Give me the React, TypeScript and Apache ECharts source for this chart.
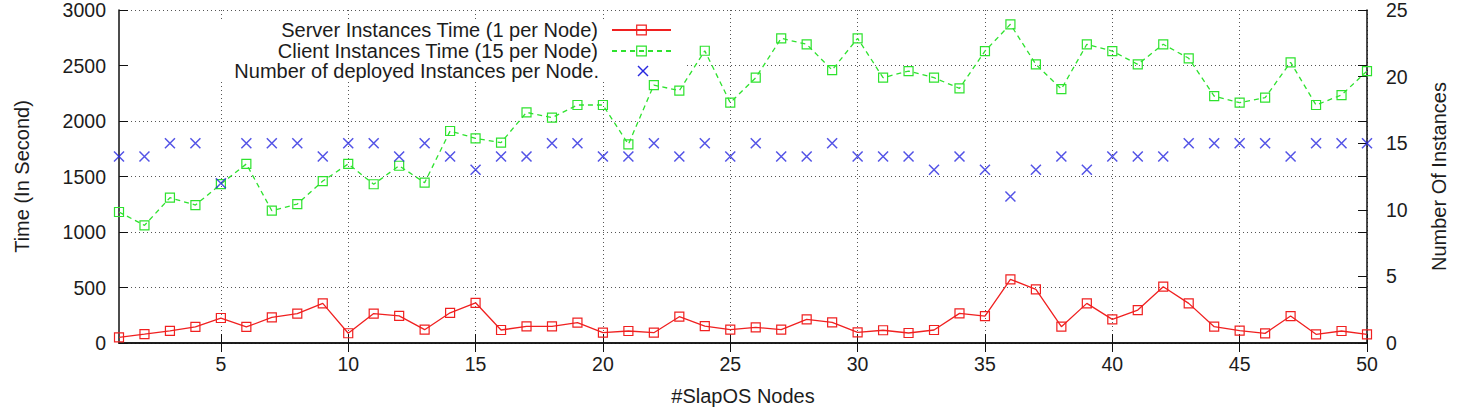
import React, { useEffect, useRef } from "react";
import * as echarts from "echarts";

// Node indices on the x axis
const nodes = [
  1, 2, 3, 4, 5, 6, 7, 8, 9, 10, 11, 12, 13, 14, 15, 16, 17, 18, 19, 20, 21, 22, 23, 24, 25,
  26, 27, 28, 29, 30, 31, 32, 33, 34, 35, 36, 37, 38, 39, 40, 41, 42, 43, 44, 45, 46, 47, 48, 49, 50,
];

// Time (s) to deploy the server instance on each node
const serverTime = [
  51, 80, 110, 145, 225, 145, 230, 265, 357, 88, 265, 245, 120, 272, 362, 117, 150, 150, 183, 93,
  108, 93, 237, 152, 120, 141, 120, 213, 185, 96, 115, 90, 117, 267, 243, 574, 484, 147, 357, 213,
  297, 507, 357, 147, 111, 87, 243, 78, 108, 78,
];

// Time (s) to deploy the client instances on each node
const clientTime = [
  1180, 1060, 1309, 1243, 1432, 1613, 1192, 1252, 1459, 1613, 1430, 1597, 1444, 1910, 1844, 1805,
  2078, 2030, 2144, 2144, 1790, 2324, 2273, 2633, 2165, 2390, 2745, 2691, 2459, 2745, 2390, 2450,
  2390, 2294, 2630, 2871, 2510, 2288, 2691, 2630, 2510, 2691, 2565, 2225, 2165, 2210, 2529, 2144,
  2234, 2450,
];

// Number of instances deployed on each node
const deployedInstances = [
  14, 14, 15, 15, 12, 15, 15, 15, 14, 15, 15, 14, 15, 14, 13, 14, 14, 15, 15, 14, 14, 15, 14, 15, 14,
  15, 14, 14, 15, 14, 14, 14, 13, 14, 13, 11, 13, 14, 13, 14, 14, 14, 15, 15, 15, 15, 14, 15, 15, 15,
];

const xTicks = [5, 10, 15, 20, 25, 30, 35, 40, 45, 50];

const SERVER_NAME = "Server Instances Time (1 per Node)";
const CLIENT_NAME = "Client Instances Time (15 per Node)";
const COUNT_NAME = "Number of deployed Instances per Node.";

const FONT = "'Liberation Sans', Arial, Helvetica, sans-serif";
const TEXT_COLOR = "#1c1c1c";
const RED = "#f02020";
const GREEN = "#2ee22e";
const BLUE = "#2828e0";

const SQUARE = "path://M0,0H10V10H0Z";
const CROSS = "path://M0,0L10,10M10,0L0,10";

const frameLine = { show: true, lineStyle: { color: "#111", width: 1.5 } };
const innerTick = { show: true, inside: true, length: 9, lineStyle: { color: "#111", width: 1 } };
const gridDots = { show: true, lineStyle: { color: "#555", width: 1, type: [1, 3] as number[] } };
const plain = (v: number) => String(v);

export default function App() {
  const ref = useRef<HTMLDivElement>(null);

  useEffect(() => {
    if (!ref.current) return;
    const chart = echarts.init(ref.current, undefined, { renderer: "svg" });

    const legendBase = {
      orient: "vertical" as const,
      align: "right" as const,
      right: 785,
      padding: 0,
      itemWidth: 59,
      itemHeight: 12,
      selectedMode: false,
      textStyle: { fontFamily: FONT, fontSize: 20, color: TEXT_COLOR, padding: [0, 9, 0, 0] },
      itemStyle: { borderWidth: 1.2 },
    };

    const tickLabel = { fontSize: 19.5, color: TEXT_COLOR, fontFamily: FONT };
    const axisName = { fontSize: 20, color: TEXT_COLOR, fontFamily: FONT };

    // third key row: right-aligned label with a cross centred under the squares above
    const keyX = 643;
    const keyY = 71;
    const crossStyle = { stroke: BLUE, lineWidth: 1.4 };

    chart.setOption({
      animation: false,
      backgroundColor: "#fff",
      textStyle: { fontFamily: FONT },
      grid: { left: 119, right: 89, top: 10, bottom: 74 },
      graphic: [
        {
          // opaque key box hiding the grid behind the legend
          type: "rect",
          z: 1,
          shape: { x: 129, y: 19, width: 555, height: 63 },
          style: { fill: "#fff" },
          silent: true,
        },
        {
          type: "text",
          z: 5,
          silent: true,
          style: {
            text: COUNT_NAME,
            x: 599,
            y: keyY,
            align: "right",
            verticalAlign: "middle",
            fontSize: 20,
            fontFamily: FONT,
            fill: TEXT_COLOR,
          },
        },
        {
          type: "line",
          z: 5,
          silent: true,
          shape: { x1: keyX - 5, y1: keyY - 5, x2: keyX + 5, y2: keyY + 5 },
          style: crossStyle,
        },
        {
          type: "line",
          z: 5,
          silent: true,
          shape: { x1: keyX + 5, y1: keyY - 5, x2: keyX - 5, y2: keyY + 5 },
          style: crossStyle,
        },
      ],
      legend: [
        { ...legendBase, top: 20, data: [SERVER_NAME] },
        { ...legendBase, top: 41, data: [CLIENT_NAME] },
      ],
      xAxis: [
        {
          type: "value",
          min: 1,
          max: 50,
          position: "bottom",
          name: "#SlapOS Nodes",
          nameLocation: "middle",
          nameGap: 43,
          nameTextStyle: axisName,
          axisLine: frameLine,
          axisTick: { ...innerTick, customValues: xTicks },
          axisLabel: { ...tickLabel, customValues: xTicks, margin: 11, formatter: plain },
          splitLine: gridDots,
        },
        {
          type: "value",
          min: 1,
          max: 50,
          position: "top",
          axisLine: frameLine,
          axisTick: { ...innerTick, customValues: xTicks },
          axisLabel: { show: false, customValues: xTicks },
          splitLine: { show: false },
        },
      ],
      yAxis: [
        {
          type: "value",
          min: 0,
          max: 3000,
          interval: 500,
          position: "left",
          name: "Time (In Second)",
          nameLocation: "middle",
          nameRotate: 90,
          nameGap: 87,
          nameTextStyle: axisName,
          axisLine: frameLine,
          axisTick: innerTick,
          axisLabel: { ...tickLabel, margin: 13, formatter: plain },
          splitLine: gridDots,
        },
        {
          type: "value",
          min: 0,
          max: 25,
          interval: 5,
          position: "right",
          name: "Number Of Instances",
          nameLocation: "middle",
          nameRotate: 90,
          nameGap: 62,
          nameTextStyle: axisName,
          axisLine: frameLine,
          axisTick: innerTick,
          axisLabel: { ...tickLabel, margin: 19, formatter: plain },
          splitLine: { show: false },
        },
        {
          // left-axis ticks mirrored on the right frame
          type: "value",
          min: 0,
          max: 3000,
          interval: 500,
          position: "right",
          axisLine: { show: false },
          axisTick: innerTick,
          axisLabel: { show: false },
          splitLine: { show: false },
        },
      ],
      series: [
        {
          name: SERVER_NAME,
          type: "line",
          xAxisIndex: 0,
          yAxisIndex: 0,
          data: nodes.map((n, i) => [n, serverTime[i]]),
          symbol: SQUARE,
          symbolSize: 9,
          showAllSymbol: true,
          lineStyle: { color: RED, width: 1.3 },
          itemStyle: { color: "rgba(0,0,0,0)", borderColor: RED, borderWidth: 1.2 },
          z: 3,
        },
        {
          name: CLIENT_NAME,
          type: "line",
          xAxisIndex: 0,
          yAxisIndex: 0,
          data: nodes.map((n, i) => [n, clientTime[i]]),
          symbol: SQUARE,
          symbolSize: 9,
          showAllSymbol: true,
          lineStyle: { color: GREEN, width: 1.3, type: [5, 4] },
          itemStyle: { color: "rgba(0,0,0,0)", borderColor: GREEN, borderWidth: 1.2 },
          z: 3,
        },
        {
          name: COUNT_NAME,
          type: "scatter",
          xAxisIndex: 0,
          yAxisIndex: 1,
          data: nodes.map((n, i) => [n, deployedInstances[i]]),
          symbol: CROSS,
          symbolSize: 10,
          symbolKeepAspect: true,
          itemStyle: { color: "rgba(0,0,0,0)", borderColor: BLUE, borderWidth: 1.5 },
          z: 3,
        },
      ],
    });

    return () => chart.dispose();
  }, []);

  return (
    <div
      ref={ref}
      style={{ position: "fixed", left: 0, top: 0, width: 1457, height: 417, background: "#fff" }}
    />
  );
}
